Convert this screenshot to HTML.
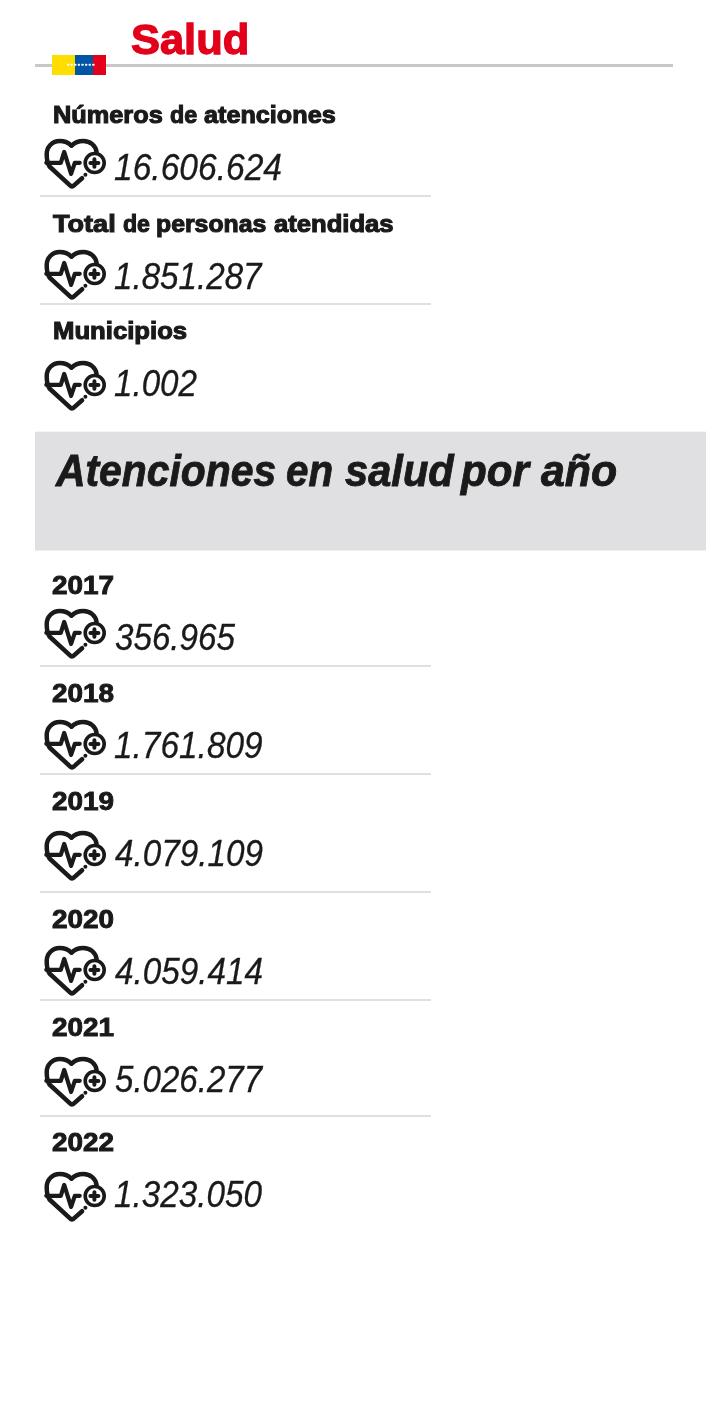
<!DOCTYPE html>
<html lang="es"><head><meta charset="utf-8"><title>Salud</title>
<style>
html,body{margin:0;padding:0;background:#fff;}
body{width:720px;height:1417px;position:relative;overflow:hidden;font-family:"Liberation Sans",sans-serif;color:#1a1a1a;}
.t{position:absolute;white-space:nowrap;line-height:1;transform-origin:0 0;}
.p{word-spacing:-0.27783em;}
.w{display:inline-block;width:0;transform-origin:0 0;}
.lb{font-weight:bold;font-size:24px;-webkit-text-stroke:1.1px #1a1a1a;}
.yr{font-weight:bold;font-size:25px;-webkit-text-stroke:0.9px #1a1a1a;}
.nm{font-style:italic;font-size:36.3px;-webkit-text-stroke:0.3px #1a1a1a;}
.h1{font-weight:bold;font-size:42.5px;color:#e2001a;-webkit-text-stroke:1.3px #e2001a;}
.h2{font-weight:bold;font-style:italic;font-size:44px;-webkit-text-stroke:0.9px #1a1a1a;}
.ln{position:absolute;left:40px;width:391px;height:2px;background:#e0e0e0;}
.ic{position:absolute;overflow:visible;}
.band{position:absolute;left:35px;top:432px;width:671px;height:118px;background:#e0e0e2;box-shadow:0 1px 0 #f0f0f1,0 -1px 0 #f6f6f7;}
.rule{position:absolute;left:35px;top:64px;width:638px;height:3px;background:#c8c8c8;}
.flag{position:absolute;top:55px;height:19.6px;}
</style></head><body>


<div class="rule"></div>
<div class="flag" style="left:51.7px;width:23.3px;background:#ffdd00"></div>
<div class="flag" style="left:75px;width:18px;background:#0055a4"></div>
<div class="flag" style="left:93px;width:12.8px;background:#e2001a"></div>
<svg style="position:absolute;left:48px;top:50px" width="64" height="30" viewBox="0 0 64 30" fill="#fff"><rect x="19.00" y="13.65" width="2.1" height="2.1" rx="0.5"/><rect x="22.62" y="13.65" width="2.1" height="2.1" rx="0.5"/><rect x="26.24" y="13.65" width="2.1" height="2.1" rx="0.5"/><rect x="29.86" y="13.65" width="2.1" height="2.1" rx="0.5"/><rect x="33.48" y="13.65" width="2.1" height="2.1" rx="0.5"/><rect x="37.10" y="13.65" width="2.1" height="2.1" rx="0.5"/><rect x="40.72" y="13.65" width="2.1" height="2.1" rx="0.5"/><rect x="44.34" y="13.65" width="2.1" height="2.1" rx="0.5"/></svg>
<div class="band"></div>
<div class="t h1" style="left:131.49px;top:19px;transform:scaleX(1.0212)">Salud</div>
<div class="t p lb" style="left:53.05px;top:103px"><span class="w" style="margin-left:0.00px;transform:scaleX(1.0546)">Números</span> <span class="w" style="margin-left:117.37px;transform:scaleX(0.9688)">de</span> <span class="w" style="margin-left:33.52px;transform:scaleX(1.0501)">atenciones</span></div>
<div class="t nm" style="left:114.31px;top:150px;transform:scaleX(0.9249)">16.606.624</div>
<div class="t p lb" style="left:52.78px;top:212px"><span class="w" style="margin-left:0.00px;transform:scaleX(1.1279)">Total</span> <span class="w" style="margin-left:69.74px;transform:scaleX(0.9633)">de</span> <span class="w" style="margin-left:33.95px;transform:scaleX(1.0333)">personas</span> <span class="w" style="margin-left:117.02px;transform:scaleX(1.0674)">atendidas</span></div>
<div class="t nm" style="left:114.31px;top:259px;transform:scaleX(0.9136)">1.851.287</div>
<div class="t lb" style="left:52.73px;top:319px;transform:scaleX(1.0702)">Municipios</div>
<div class="t nm" style="left:114.31px;top:366px;transform:scaleX(0.9136)">1.002</div>
<div class="t p h2" style="left:55.59px;top:449px"><span class="w" style="margin-left:0.00px;transform:scaleX(0.9284)">Atenciones</span> <span class="w" style="margin-left:230.39px;transform:scaleX(0.9163)">en</span> <span class="w" style="margin-left:58.62px;transform:scaleX(0.9462)">salud</span> <span class="w" style="margin-left:116.84px;transform:scaleX(0.9592)">por</span> <span class="w" style="margin-left:79.60px;transform:scaleX(0.9742)">año</span></div>
<div class="t yr" style="left:52.19px;top:573px;transform:scaleX(1.1165)">2017</div>
<div class="t nm" style="left:114.81px;top:620px;transform:scaleX(0.9140)">356.965</div>
<div class="t yr" style="left:52.19px;top:681px;transform:scaleX(1.1165)">2018</div>
<div class="t nm" style="left:114.31px;top:728px;transform:scaleX(0.9204)">1.761.809</div>
<div class="t yr" style="left:52.19px;top:789px;transform:scaleX(1.1165)">2019</div>
<div class="t nm" style="left:115.00px;top:836px;transform:scaleX(0.9161)">4.079.109</div>
<div class="t yr" style="left:52.19px;top:907px;transform:scaleX(1.1165)">2020</div>
<div class="t nm" style="left:114.50px;top:954px;transform:scaleX(0.9158)">4.059.414</div>
<div class="t yr" style="left:52.19px;top:1015px;transform:scaleX(1.1165)">2021</div>
<div class="t nm" style="left:114.82px;top:1062px;transform:scaleX(0.9105)">5.026.277</div>
<div class="t yr" style="left:52.19px;top:1130px;transform:scaleX(1.1165)">2022</div>
<div class="t nm" style="left:114.31px;top:1177px;transform:scaleX(0.9159)">1.323.050</div>
<svg class="ic" style="left:40px;top:132.00px" width="72" height="68" viewBox="0 0 72 68"><g fill="none" stroke="#1a1a1a" stroke-linecap="round" stroke-linejoin="round">
<path stroke-width="4.5" d="M31.5 13.7 C28.5 10.6 24.3 8.9 19.7 8.9 C12.5 8.9 6.7 14.7 6.7 22 C6.7 27.3 7.3 31.2 9.5 34.5 L30 53.3 Q31.9 55.6 34 53.4 L42.1 46.2"/>
<path stroke-width="4.5" d="M31.5 13.7 C34.5 10.6 38.7 8.9 43.4 8.9 C50.2 8.9 55.8 13.7 56.6 20.1"/>
<path stroke-width="4.2" d="M6.3 30.8 H20.8 L24.2 19.9 L31.1 41.9 L34.8 30.8 H39.7"/>
<circle cx="54.7" cy="31" r="9.5" stroke-width="3.6"/>
<path stroke-width="4" d="M50.4 31 H58.4 M54.4 27.2 V34.8"/>
<circle cx="45.4" cy="42.7" r="2" fill="#1a1a1a" stroke="none"/>
</g></svg>
<svg class="ic" style="left:40px;top:243.00px" width="72" height="68" viewBox="0 0 72 68"><g fill="none" stroke="#1a1a1a" stroke-linecap="round" stroke-linejoin="round">
<path stroke-width="4.5" d="M31.5 13.7 C28.5 10.6 24.3 8.9 19.7 8.9 C12.5 8.9 6.7 14.7 6.7 22 C6.7 27.3 7.3 31.2 9.5 34.5 L30 53.3 Q31.9 55.6 34 53.4 L42.1 46.2"/>
<path stroke-width="4.5" d="M31.5 13.7 C34.5 10.6 38.7 8.9 43.4 8.9 C50.2 8.9 55.8 13.7 56.6 20.1"/>
<path stroke-width="4.2" d="M6.3 30.8 H20.8 L24.2 19.9 L31.1 41.9 L34.8 30.8 H39.7"/>
<circle cx="54.7" cy="31" r="9.5" stroke-width="3.6"/>
<path stroke-width="4" d="M50.4 31 H58.4 M54.4 27.2 V34.8"/>
<circle cx="45.4" cy="42.7" r="2" fill="#1a1a1a" stroke="none"/>
</g></svg>
<svg class="ic" style="left:40px;top:354.00px" width="72" height="68" viewBox="0 0 72 68"><g fill="none" stroke="#1a1a1a" stroke-linecap="round" stroke-linejoin="round">
<path stroke-width="4.5" d="M31.5 13.7 C28.5 10.6 24.3 8.9 19.7 8.9 C12.5 8.9 6.7 14.7 6.7 22 C6.7 27.3 7.3 31.2 9.5 34.5 L30 53.3 Q31.9 55.6 34 53.4 L42.1 46.2"/>
<path stroke-width="4.5" d="M31.5 13.7 C34.5 10.6 38.7 8.9 43.4 8.9 C50.2 8.9 55.8 13.7 56.6 20.1"/>
<path stroke-width="4.2" d="M6.3 30.8 H20.8 L24.2 19.9 L31.1 41.9 L34.8 30.8 H39.7"/>
<circle cx="54.7" cy="31" r="9.5" stroke-width="3.6"/>
<path stroke-width="4" d="M50.4 31 H58.4 M54.4 27.2 V34.8"/>
<circle cx="45.4" cy="42.7" r="2" fill="#1a1a1a" stroke="none"/>
</g></svg>
<svg class="ic" style="left:40px;top:602.00px" width="72" height="68" viewBox="0 0 72 68"><g fill="none" stroke="#1a1a1a" stroke-linecap="round" stroke-linejoin="round">
<path stroke-width="4.5" d="M31.5 13.7 C28.5 10.6 24.3 8.9 19.7 8.9 C12.5 8.9 6.7 14.7 6.7 22 C6.7 27.3 7.3 31.2 9.5 34.5 L30 53.3 Q31.9 55.6 34 53.4 L42.1 46.2"/>
<path stroke-width="4.5" d="M31.5 13.7 C34.5 10.6 38.7 8.9 43.4 8.9 C50.2 8.9 55.8 13.7 56.6 20.1"/>
<path stroke-width="4.2" d="M6.3 30.8 H20.8 L24.2 19.9 L31.1 41.9 L34.8 30.8 H39.7"/>
<circle cx="54.7" cy="31" r="9.5" stroke-width="3.6"/>
<path stroke-width="4" d="M50.4 31 H58.4 M54.4 27.2 V34.8"/>
<circle cx="45.4" cy="42.7" r="2" fill="#1a1a1a" stroke="none"/>
</g></svg>
<svg class="ic" style="left:40px;top:713.00px" width="72" height="68" viewBox="0 0 72 68"><g fill="none" stroke="#1a1a1a" stroke-linecap="round" stroke-linejoin="round">
<path stroke-width="4.5" d="M31.5 13.7 C28.5 10.6 24.3 8.9 19.7 8.9 C12.5 8.9 6.7 14.7 6.7 22 C6.7 27.3 7.3 31.2 9.5 34.5 L30 53.3 Q31.9 55.6 34 53.4 L42.1 46.2"/>
<path stroke-width="4.5" d="M31.5 13.7 C34.5 10.6 38.7 8.9 43.4 8.9 C50.2 8.9 55.8 13.7 56.6 20.1"/>
<path stroke-width="4.2" d="M6.3 30.8 H20.8 L24.2 19.9 L31.1 41.9 L34.8 30.8 H39.7"/>
<circle cx="54.7" cy="31" r="9.5" stroke-width="3.6"/>
<path stroke-width="4" d="M50.4 31 H58.4 M54.4 27.2 V34.8"/>
<circle cx="45.4" cy="42.7" r="2" fill="#1a1a1a" stroke="none"/>
</g></svg>
<svg class="ic" style="left:40px;top:823.80px" width="72" height="68" viewBox="0 0 72 68"><g fill="none" stroke="#1a1a1a" stroke-linecap="round" stroke-linejoin="round">
<path stroke-width="4.5" d="M31.5 13.7 C28.5 10.6 24.3 8.9 19.7 8.9 C12.5 8.9 6.7 14.7 6.7 22 C6.7 27.3 7.3 31.2 9.5 34.5 L30 53.3 Q31.9 55.6 34 53.4 L42.1 46.2"/>
<path stroke-width="4.5" d="M31.5 13.7 C34.5 10.6 38.7 8.9 43.4 8.9 C50.2 8.9 55.8 13.7 56.6 20.1"/>
<path stroke-width="4.2" d="M6.3 30.8 H20.8 L24.2 19.9 L31.1 41.9 L34.8 30.8 H39.7"/>
<circle cx="54.7" cy="31" r="9.5" stroke-width="3.6"/>
<path stroke-width="4" d="M50.4 31 H58.4 M54.4 27.2 V34.8"/>
<circle cx="45.4" cy="42.7" r="2" fill="#1a1a1a" stroke="none"/>
</g></svg>
<svg class="ic" style="left:40px;top:939.00px" width="72" height="68" viewBox="0 0 72 68"><g fill="none" stroke="#1a1a1a" stroke-linecap="round" stroke-linejoin="round">
<path stroke-width="4.5" d="M31.5 13.7 C28.5 10.6 24.3 8.9 19.7 8.9 C12.5 8.9 6.7 14.7 6.7 22 C6.7 27.3 7.3 31.2 9.5 34.5 L30 53.3 Q31.9 55.6 34 53.4 L42.1 46.2"/>
<path stroke-width="4.5" d="M31.5 13.7 C34.5 10.6 38.7 8.9 43.4 8.9 C50.2 8.9 55.8 13.7 56.6 20.1"/>
<path stroke-width="4.2" d="M6.3 30.8 H20.8 L24.2 19.9 L31.1 41.9 L34.8 30.8 H39.7"/>
<circle cx="54.7" cy="31" r="9.5" stroke-width="3.6"/>
<path stroke-width="4" d="M50.4 31 H58.4 M54.4 27.2 V34.8"/>
<circle cx="45.4" cy="42.7" r="2" fill="#1a1a1a" stroke="none"/>
</g></svg>
<svg class="ic" style="left:40px;top:1050.00px" width="72" height="68" viewBox="0 0 72 68"><g fill="none" stroke="#1a1a1a" stroke-linecap="round" stroke-linejoin="round">
<path stroke-width="4.5" d="M31.5 13.7 C28.5 10.6 24.3 8.9 19.7 8.9 C12.5 8.9 6.7 14.7 6.7 22 C6.7 27.3 7.3 31.2 9.5 34.5 L30 53.3 Q31.9 55.6 34 53.4 L42.1 46.2"/>
<path stroke-width="4.5" d="M31.5 13.7 C34.5 10.6 38.7 8.9 43.4 8.9 C50.2 8.9 55.8 13.7 56.6 20.1"/>
<path stroke-width="4.2" d="M6.3 30.8 H20.8 L24.2 19.9 L31.1 41.9 L34.8 30.8 H39.7"/>
<circle cx="54.7" cy="31" r="9.5" stroke-width="3.6"/>
<path stroke-width="4" d="M50.4 31 H58.4 M54.4 27.2 V34.8"/>
<circle cx="45.4" cy="42.7" r="2" fill="#1a1a1a" stroke="none"/>
</g></svg>
<svg class="ic" style="left:40px;top:1164.80px" width="72" height="68" viewBox="0 0 72 68"><g fill="none" stroke="#1a1a1a" stroke-linecap="round" stroke-linejoin="round">
<path stroke-width="4.5" d="M31.5 13.7 C28.5 10.6 24.3 8.9 19.7 8.9 C12.5 8.9 6.7 14.7 6.7 22 C6.7 27.3 7.3 31.2 9.5 34.5 L30 53.3 Q31.9 55.6 34 53.4 L42.1 46.2"/>
<path stroke-width="4.5" d="M31.5 13.7 C34.5 10.6 38.7 8.9 43.4 8.9 C50.2 8.9 55.8 13.7 56.6 20.1"/>
<path stroke-width="4.2" d="M6.3 30.8 H20.8 L24.2 19.9 L31.1 41.9 L34.8 30.8 H39.7"/>
<circle cx="54.7" cy="31" r="9.5" stroke-width="3.6"/>
<path stroke-width="4" d="M50.4 31 H58.4 M54.4 27.2 V34.8"/>
<circle cx="45.4" cy="42.7" r="2" fill="#1a1a1a" stroke="none"/>
</g></svg>
<div class="ln" style="top:195.00px"></div>
<div class="ln" style="top:303.00px"></div>
<div class="ln" style="top:665.00px"></div>
<div class="ln" style="top:773.00px"></div>
<div class="ln" style="top:891.00px"></div>
<div class="ln" style="top:999.00px"></div>
<div class="ln" style="top:1114.50px"></div>
</body></html>
